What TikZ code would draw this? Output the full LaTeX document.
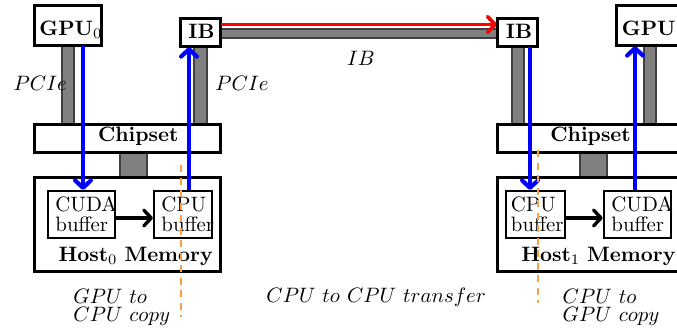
\documentclass[tikz,border=0pt]{standalone}
\usetikzlibrary{calc,arrows.meta}
\definecolor{dashorange}{RGB}{250,160,70}
\definecolor{bargray}{RGB}{128,128,128}
\begin{document}
\begin{tikzpicture}[x=0.48pt,y=-0.48pt,
  box/.style={draw=black,line width=1pt,fill=white,inner sep=0pt},
  txt/.style={inner sep=0pt,anchor=base west},
  bar/.style={fill=bargray,draw=black!75,line width=0.5pt},
  tip/.style={-{Straight Barb[length=3.6pt,width=7.6pt,round]}},
  bluearrow/.style={draw=blue,line width=2pt,tip},
  redarrow/.style={draw=red,line width=1.8pt,tip},
  blkarrow/.style={draw=black,line width=1.6pt,tip},
  copyline/.style={draw=dashorange,line width=0.6pt,dash pattern=on 3.4pt off 2.6pt}]
\useasboundingbox (0,0) rectangle (677,328);
\clip (0,0) rectangle (677,328);
% boxes
\node[box,minimum width=66*0.48pt,minimum height=39*0.48pt] (gpu0) at (68,25.5) {};
\node[box,minimum width=39*0.48pt,minimum height=27*0.48pt] (ibL) at (200.5,32.5) {};
\node[box,minimum width=39*0.48pt,minimum height=27*0.48pt] (ibR) at (517.5,32.5) {};
\node[box,minimum width=66*0.48pt,minimum height=39*0.48pt] (gpu1) at (650,25.5) {};
\node[box,minimum width=185*0.48pt,minimum height=27*0.48pt] (chipL) at (127.5,138.5) {};
\node[box,minimum width=185*0.48pt,minimum height=27*0.48pt] (chipR) at (590.5,138.5) {};
\node[box,minimum width=185*0.48pt,minimum height=93*0.48pt] (hostL) at (127.5,224.5) {};
\node[box,minimum width=185*0.48pt,minimum height=93*0.48pt] (hostR) at (590.5,224.5) {};
\node[box,minimum width=67*0.48pt,minimum height=47*0.48pt] (cudaL) at (81.5,214.5) {};
\node[box,minimum width=58*0.48pt,minimum height=47*0.48pt] (cpuL) at (183,214.5) {};
\node[box,minimum width=59*0.48pt,minimum height=47*0.48pt] (cpuR) at (535.3,214.5) {};
\node[box,minimum width=67*0.48pt,minimum height=47*0.48pt] (cudaR) at (637.3,214.5) {};
% bars (links)
\draw[bar] (62,0 |- gpu0.south) rectangle (74,0 |- chipL.north);
\draw[bar] (194,0 |- ibL.south) rectangle (207,0 |- chipL.north);
\draw[bar] (512,0 |- ibR.south) rectangle (524,0 |- chipR.north);
\draw[bar] (644,0 |- gpu1.south) rectangle (656,0 |- chipR.north);
\draw[bar] (120,0 |- chipL.south) rectangle (147,0 |- hostL.north);
\draw[bar] (580,0 |- chipR.south) rectangle (607,0 |- hostR.north);
\draw[bar] (ibL.east |- 0,29) rectangle (ibR.west |- 0,38);
% redraw box borders over bars
\foreach \n in {gpu0,ibL,ibR,gpu1,chipL,chipR,hostL,hostR}{\draw[line width=1pt] (\n.south west) rectangle (\n.north east);}
% texts in boxes
\node[txt] (tgpu0) at (39,35) {\textbf{GPU}$_0$};
\node[txt] (tgpu1) at (621.5,35) {\textbf{GPU}$_1$};
\node[txt,anchor=base] (tibL) at (201.5,38.3) {\textbf{IB}};
\node[txt,anchor=base] (tibR) at (519,38.3) {\textbf{IB}};
\node[txt] (tchipL) at (97.7,141.7) {\textbf{Chipset}};
\node[txt] (tchipR) at (550,141.7) {\textbf{Chipset}};
\node[txt] (thostL) at (58.3,261.7) {\textbf{Host}$_0$ \textbf{Memory}};
\node[txt] (thostR) at (521,261.7) {\textbf{Host}$_1$ \textbf{Memory}};
\node[txt] (tcudaL1) at (55,211.7) {CUDA};
\node[txt] (tcudaL2) at (55,231) {buffer};
\node[txt] (tcpuL1) at (161,211.7) {CPU};
\node[txt] (tcpuL2) at (161,231) {buffer};
\node[txt] (tcpuR1) at (510.5,211.7) {CPU};
\node[txt] (tcpuR2) at (510.5,231) {buffer};
\node[txt] (tcudaR1) at (611,211.7) {CUDA};
\node[txt] (tcudaR2) at (611,231) {buffer};
% link labels
\node[txt] (pcieL) at (13.3,90.7) {$PCIe$};
\node[txt] (pcieR) at (215,90.7) {$PCIe$};
\node[txt] (iblab) at (346.7,65) {$IB$};
% arrows
\draw[redarrow] (ibL.east |- 0,24.5) -- (ibR.west |- 0,24.5);
\draw[bluearrow] (83,0 |- gpu0.south) -- (83,0 |- cudaL.north);
\draw[bluearrow] (189,0 |- cpuL.north) -- (189,0 |- ibL.south);
\draw[bluearrow] (530,0 |- ibR.south) -- (530,0 |- cpuR.north);
\draw[bluearrow] (635,0 |- cudaR.north) -- (635,0 |- gpu1.south);
\draw[blkarrow] (cudaL.east |- 0,218) -- (cpuL.west |- 0,218);
\draw[blkarrow] (cpuR.east |- 0,218) -- (cudaR.west |- 0,218);
% copy phase separators
\coordinate (sepLt) at (181,165);
\coordinate (sepLb) at (181,317);
\coordinate (sepRt) at (538,150);
\coordinate (sepRb) at (538,303);
\draw[copyline] (sepLt) -- (sepLb);
\draw[copyline] (sepRt) -- (sepRb);
% phase labels
\node[txt] (ph1a) at (73,303) {$GPU\ to$};
\node[txt] (ph1b) at (73,321.5) {$CPU\ copy$};
\node[txt] (ph2) at (266,302) {$CPU\ to\ CPU\ transfer$};
\node[txt] (ph3a) at (562.3,303) {$CPU\ to$};
\node[txt] (ph3b) at (562.3,321.5) {$GPU\ copy$};
\end{tikzpicture}
\end{document}
